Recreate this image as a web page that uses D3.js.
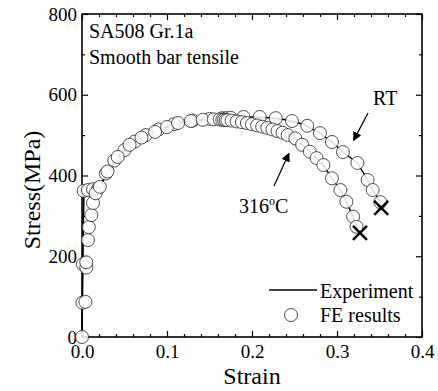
<!DOCTYPE html>
<html>
<head>
<meta charset="utf-8">
<script src="https://cdn.jsdelivr.net/npm/d3@7"></script>
<style>
  body { margin: 0; background: #fff; }
  svg text { font-family: "Liberation Serif", "Times New Roman", serif; fill: #000; }
</style>
</head>
<body>
<div id="chart"></div>
<script>
// Experimental curves [strain, stress MPa]
const expRT = [
    [0, 0], [0.001, 200], [0.002, 345], [0.003, 362], [0.01, 363], [0.02, 366],
    [0.025, 390], [0.03, 410], [0.04, 440], [0.05, 463], [0.06, 481], [0.08, 505],
    [0.10, 522], [0.12, 533], [0.14, 539], [0.16, 542], [0.18, 545], [0.20, 545],
    [0.22, 543], [0.24, 538], [0.26, 527], [0.28, 505], [0.294, 483], [0.307, 458],
    [0.324, 431], [0.336, 389], [0.342, 364], [0.351, 334], [0.352, 322]
];
const exp316 = [
    [0, 0], [0.001, 200], [0.002, 345], [0.003, 360], [0.01, 362], [0.02, 365],
    [0.025, 388], [0.03, 408], [0.04, 438], [0.05, 461], [0.06, 479], [0.08, 503],
    [0.10, 520], [0.12, 531], [0.14, 537], [0.16, 539], [0.18, 534], [0.20, 527],
    [0.22, 517], [0.24, 503], [0.251, 492], [0.259, 476], [0.268, 459], [0.276, 443],
    [0.284, 426], [0.294, 393], [0.304, 364], [0.311, 335], [0.319, 298], [0.323, 273],
    [0.327, 257]
];

// FE results
const feRT = [
    [0, 0], [0.0005, 85], [0.001, 180], [0.002, 362], [0.007, 364], [0.013, 366],
    [0.019, 368], [0.028, 405], [0.038, 437], [0.05, 463], [0.062, 484], [0.075, 500],
    [0.09, 514], [0.108, 527], [0.13, 536], [0.15, 540], [0.165, 542], [0.17, 542],
    [0.175, 543], [0.19, 545], [0.209, 545], [0.228, 542], [0.247, 535], [0.265, 523],
    [0.280, 505], [0.294, 483], [0.307, 458], [0.324, 431], [0.336, 389], [0.342, 364],
    [0.351, 334]
];
const fe316 = [
    [0.004, 87], [0.005, 172], [0.005, 185], [0.007, 240], [0.008, 272], [0.011, 302],
    [0.013, 332], [0.016, 356], [0.021, 372], [0.03, 410], [0.042, 446], [0.056, 476],
    [0.07, 494], [0.086, 508], [0.1, 520], [0.113, 530], [0.128, 535], [0.142, 538],
    [0.155, 539], [0.162, 539], [0.165, 538], [0.167, 538], [0.169, 537], [0.171, 537],
    [0.176, 536], [0.182, 534], [0.188, 532], [0.194, 530], [0.2, 527], [0.206, 524],
    [0.212, 521], [0.218, 518], [0.224, 514], [0.23, 510], [0.236, 506], [0.242, 500],
    [0.251, 492], [0.259, 476], [0.268, 459], [0.276, 443], [0.284, 426], [0.294, 393],
    [0.304, 364], [0.311, 335], [0.319, 298], [0.323, 273]
];

// Fracture points
const fracture = [[0.352, 320], [0.327, 258]];

const xTicks = [0, 0.1, 0.2, 0.3, 0.4];
const yTicks = [0, 200, 400, 600, 800];

const W = 438, H = 391;
const svg = d3.select('#chart').append('svg')
    .attr('width', W).attr('height', H);

const x = d3.scaleLinear().domain([0, 0.4]).range([82, 422]);
const y = d3.scaleLinear().domain([0, 800]).range([337, 14]);

const fmtX = d3.format('.1f');

// Minor ticks
const xMinor = d3.range(0, 0.4001, 0.02).filter(v => !xTicks.some(t => Math.abs(t - v) < 1e-6));
const yMinor = d3.range(100, 800, 200);

function styleAxis(g) {
    g.select('.domain').remove();
    g.selectAll('line').attr('stroke', '#000').attr('stroke-width', 1.2);
    g.selectAll('text').style('font-size', '19px').style('font-family', '"Liberation Serif", serif');
}

// bottom
svg.append('g').attr('transform', 'translate(0,337)')
    .call(d3.axisBottom(x).tickValues(xTicks).tickFormat(fmtX).tickSize(-6).tickPadding(8))
    .call(styleAxis);
svg.append('g').attr('transform', 'translate(0,337)')
    .call(d3.axisBottom(x).tickValues(xMinor).tickFormat('').tickSize(-3))
    .call(styleAxis);
// top
svg.append('g').attr('transform', 'translate(0,14)')
    .call(d3.axisTop(x).tickValues(xTicks).tickFormat('').tickSize(-6))
    .call(styleAxis);
svg.append('g').attr('transform', 'translate(0,14)')
    .call(d3.axisTop(x).tickValues(xMinor).tickFormat('').tickSize(-3))
    .call(styleAxis);
// left
svg.append('g').attr('transform', 'translate(82,0)')
    .call(d3.axisLeft(y).tickValues(yTicks).tickSize(-6).tickPadding(5))
    .call(styleAxis);
svg.append('g').attr('transform', 'translate(82,0)')
    .call(d3.axisLeft(y).tickValues(yMinor).tickFormat('').tickSize(-3))
    .call(styleAxis);
// right
svg.append('g').attr('transform', 'translate(422,0)')
    .call(d3.axisRight(y).tickValues(yTicks).tickFormat('').tickSize(-6))
    .call(styleAxis);
svg.append('g').attr('transform', 'translate(422,0)')
    .call(d3.axisRight(y).tickValues(yMinor).tickFormat('').tickSize(-3))
    .call(styleAxis);

// frame
svg.append('rect')
    .attr('x', x(0)).attr('y', y(800))
    .attr('width', x(0.4) - x(0)).attr('height', y(0) - y(800))
    .attr('fill', 'none').attr('stroke', '#000').attr('stroke-width', 1.6);

// experiment lines
const line = d3.line().x(d => x(d[0])).y(d => y(d[1]));
[expRT, exp316].forEach(data => {
    svg.append('path').datum(data)
        .attr('d', line)
        .attr('fill', 'none')
        .attr('stroke', '#000')
        .attr('stroke-width', 1.4);
});

// FE circles
const fePts = feRT.concat(fe316);
svg.append('g').selectAll('circle')
    .data(fePts)
    .join('circle')
    .attr('cx', d => x(d[0]))
    .attr('cy', d => y(d[1]))
    .attr('r', 6.5)
    .attr('fill', '#fff')
    .attr('fill-opacity', 0.85)
    .attr('stroke', '#222')
    .attr('stroke-width', 0.8);

// fracture crosses
const cs = 7;
const crosses = svg.append('g').selectAll('g')
    .data(fracture)
    .join('g')
    .attr('transform', d => `translate(${x(d[0])},${y(d[1])})`);
crosses.append('line').attr('x1', -cs).attr('y1', -cs).attr('x2', cs).attr('y2', cs);
crosses.append('line').attr('x1', -cs).attr('y1', cs).attr('x2', cs).attr('y2', -cs);
crosses.selectAll('line').attr('stroke', '#000').attr('stroke-width', 2.4);

// arrows
svg.append('defs').append('marker')
    .attr('id', 'arrow')
    .attr('viewBox', '0 0 10 10')
    .attr('refX', 9).attr('refY', 5)
    .attr('markerWidth', 9).attr('markerHeight', 9)
    .attr('markerUnits', 'userSpaceOnUse')
    .attr('orient', 'auto')
    .append('path').attr('d', 'M0,0 L10,5 L0,10 Z').attr('fill', '#000');

const arrows = [
    { from: [0.3365, 555], to: [0.3195, 487] },
    { from: [0.2259, 374], to: [0.2435, 455] }
];
svg.append('g').selectAll('line')
    .data(arrows)
    .join('line')
    .attr('x1', d => x(d.from[0])).attr('y1', d => y(d.from[1]))
    .attr('x2', d => x(d.to[0])).attr('y2', d => y(d.to[1]))
    .attr('stroke', '#000').attr('stroke-width', 1.2)
    .attr('marker-end', 'url(#arrow)');

// annotations
svg.append('text').attr('x', 89).attr('y', 38).style('font-size', '20px').text('SA508 Gr.1a');
svg.append('text').attr('x', 89).attr('y', 64).style('font-size', '20px').text('Smooth bar tensile');
svg.append('text').attr('x', 373).attr('y', 105).style('font-size', '20px').text('RT');
const t316 = svg.append('text').attr('x', 239).attr('y', 213).style('font-size', '20px');
t316.append('tspan').text('316');
t316.append('tspan').attr('dy', -8).style('font-size', '12px').text('o');
t316.append('tspan').attr('dy', 8).text('C');

// axis titles
svg.append('text')
    .attr('x', x(0.2)).attr('y', 384)
    .attr('text-anchor', 'middle')
    .style('font-size', '24px')
    .text('Strain');
svg.append('text')
    .attr('transform', 'translate(40,190) rotate(-90)')
    .attr('text-anchor', 'middle')
    .style('font-size', '24px')
    .text('Stress(MPa)');

// legend
const leg = svg.append('g');
leg.append('line')
    .attr('x1', 269).attr('x2', 317).attr('y1', 290).attr('y2', 290)
    .attr('stroke', '#000').attr('stroke-width', 1.4);
leg.append('text').attr('x', 320).attr('y', 298).style('font-size', '20px').text('Experiment');
leg.append('circle')
    .attr('cx', 291).attr('cy', 315).attr('r', 6.5)
    .attr('fill', '#fff').attr('stroke', '#222').attr('stroke-width', 0.8);
leg.append('text').attr('x', 320).attr('y', 322).style('font-size', '20px').text('FE results');
</script>
</body>
</html>
